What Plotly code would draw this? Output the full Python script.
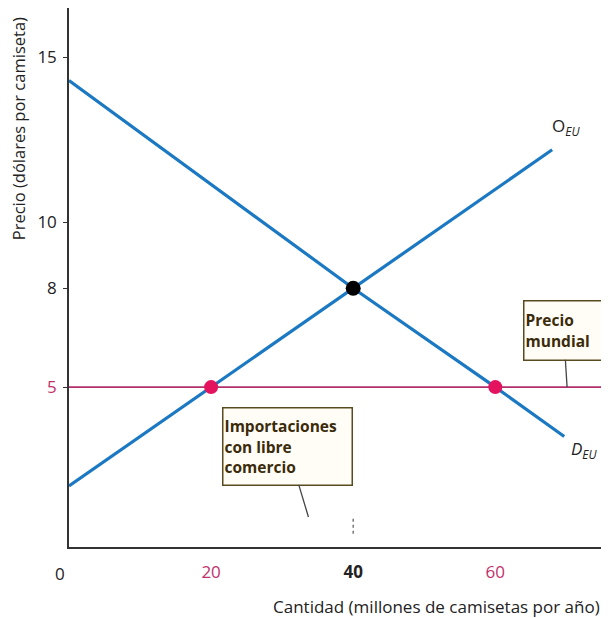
import plotly.graph_objects as go

# curvas (cantidad en millones, precio en dolares)
oferta_x = [0, 20, 40, 68]
oferta_y = [2.0, 5, 8, 12.2]
demanda_x = [0, 40, 60, 69.7]
demanda_y = [14.3, 8, 5, 3.5]
precio_mundial = 5
mundial_x = [0, 76]
importaciones_x = [20, 60]
equilibrio_x = [40]
equilibrio_y = [8]

x_ticks = [20, 40, 60]
x_ticktext = ["<span style='color:#c0306a'>20</span>", "<b>40</b>",
              "<span style='color:#c0306a'>60</span>"]
y_ticks = [5, 8, 10, 15]
y_ticktext = ["<span style='color:#c0306a'>5</span>", "8", "10", "15"]

BLUE = "#1b78c2"
PINK_LINE = "#b2306e"
PINK_DOT = "#e3135f"
BOX_TEXT = "#3b2b0a"
BOX_BORDER = "#5a4a20"
FONT = "Open Sans"

fig = go.Figure()
fig.add_trace(go.Scatter(x=[40, 40], y=[0.55, 1.1], mode="lines",
                         line=dict(color="#777777", width=1.5, dash="dot"), hoverinfo="skip"))
fig.add_trace(go.Scatter(x=mundial_x, y=[precio_mundial] * len(mundial_x), mode="lines",
                         line=dict(color=PINK_LINE, width=1.6), hoverinfo="skip"))
fig.add_trace(go.Scatter(x=oferta_x, y=oferta_y, mode="lines",
                         line=dict(color=BLUE, width=3.2), hoverinfo="skip"))
fig.add_trace(go.Scatter(x=demanda_x, y=demanda_y, mode="lines",
                         line=dict(color=BLUE, width=3.2), hoverinfo="skip"))
fig.add_trace(go.Scatter(x=importaciones_x, y=[precio_mundial] * 2, mode="markers",
                         marker=dict(color=PINK_DOT, size=14), hoverinfo="skip"))
fig.add_trace(go.Scatter(x=equilibrio_x, y=equilibrio_y, mode="markers",
                         marker=dict(color="black", size=15), hoverinfo="skip"))

caja = dict(font=dict(family=FONT, size=15.5, color=BOX_TEXT), bgcolor="#fffdf6",
            bordercolor=BOX_BORDER, borderwidth=1.5, align="left",
            showarrow=True, arrowhead=0, arrowwidth=1.3, arrowcolor="#444444",
            axref="x", ayref="y")
fig.add_annotation(x=70.1, y=5, ax=69.6, ay=6.73,
                   text="<b>Precio<br>mundial</b>", width=76, height=56, **caja)
fig.add_annotation(x=33.7, y=1.06, ax=30.7, ay=3.21,
                   text="<b>Importaciones<br>con libre<br>comercio</b>", width=126, height=74, **caja)

fig.add_annotation(x=69.9, y=12.9, text="O<sub><i>EU</i></sub>", showarrow=False,
                   font=dict(family=FONT, size=17, color="#222222"))
fig.add_annotation(x=72.6, y=3.1, text="<i>D</i><sub><i>EU</i></sub>", showarrow=False,
                   font=dict(family=FONT, size=17, color="#222222"))
fig.add_annotation(x=0, y=0.15, text="0", showarrow=False, xanchor="right", yanchor="top",
                   xshift=-2, yshift=-13, font=dict(family=FONT, size=17, color="#222222"))
fig.add_annotation(x=0.68, y=0, xref="paper", yref="paper", showarrow=False,
                   xanchor="center", yanchor="middle", yshift=-59,
                   text="Cantidad (millones de camisetas por año)",
                   font=dict(family=FONT, size=17, color="#222222"))
fig.add_annotation(x=0, y=0.775, xref="paper", yref="paper", showarrow=False, textangle=-90,
                   xanchor="center", yanchor="middle", xshift=-51,
                   text="Precio (dólares por camiseta)",
                   font=dict(family=FONT, size=16.5, color="#222222"))

# la pagina deja 8px de margen en el body
fig.update_layout(
    width=601, height=610,
    margin=dict(l=61, r=0, t=0, b=71),
    paper_bgcolor="white", plot_bgcolor="white",
    showlegend=False,
    font=dict(family=FONT, size=17, color="#222222"),
)
fig.update_xaxes(range=[0, 76], showgrid=False, zeroline=False, showline=True, automargin=False,
                 linecolor="#333333", linewidth=1.5, tickvals=x_ticks, ticktext=x_ticktext,
                 ticks="", ticklabelstandoff=9)
fig.update_yaxes(range=[0.15, 16.5], showgrid=False, zeroline=False, showline=True, automargin=False,
                 linecolor="#333333", linewidth=1.5, tickvals=y_ticks, ticktext=y_ticktext,
                 ticks="outside", ticklen=4, tickcolor="#333333", ticklabelstandoff=3)

fig.write_html("out.html")
